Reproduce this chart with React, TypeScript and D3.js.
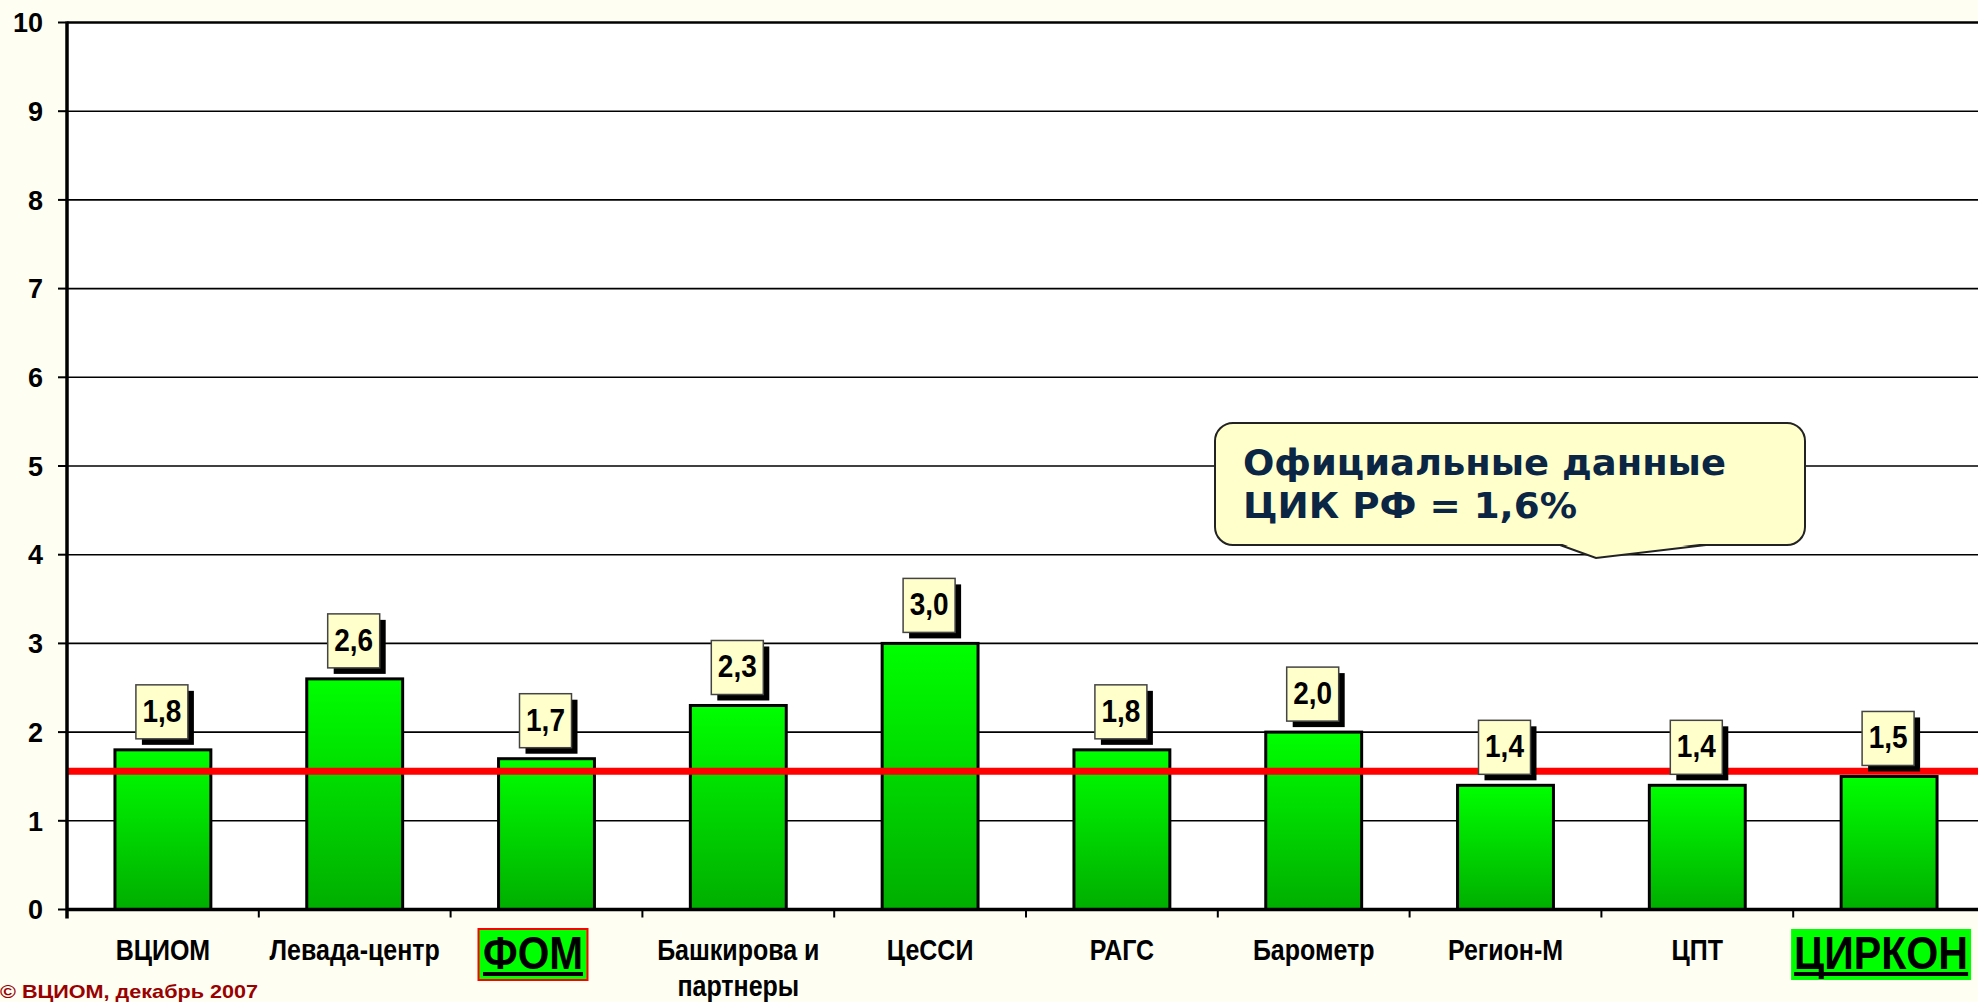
import React from "react";
import * as d3 from "d3";

const categories = ["ВЦИОМ", "Левада-центр", "ФОМ", "Башкирова и партнеры", "ЦеССИ", "РАГС", "Барометр", "Регион-М", "ЦПТ", "ЦИРКОН"];
const values = [1.8, 2.6, 1.7, 2.3, 3.0, 1.8, 2.0, 1.4, 1.4, 1.5];
const yTicks = [0, 1, 2, 3, 4, 5, 6, 7, 8, 9, 10];
const officialLine = 1.56;
const highlighted = ["ФОМ", "ЦИРКОН"];
const calloutLines = ["Официальные данные", "ЦИК РФ = 1,6%"];
const copyright = "© ВЦИОМ, декабрь 2007";

const W = 1978;
const H = 1002;
const left = 67;
const right = 1985;
const top = 22.5;
const bottom = 909.5;
const SANS = "'Liberation Sans', Arial, Helvetica, sans-serif";
const WIDE = "'DejaVu Sans', Verdana, sans-serif";

export default function App() {
  const y = d3.scaleLinear().domain([0, 10]).range([bottom, top]);
  const x = d3.scaleBand<string>().domain(categories).range([left, right]).paddingInner(0.5).paddingOuter(0.25);
  const step = x.step();
  const fmt = (v: number) => d3.format(".1f")(v).replace(".", ",");
  const boundaries = d3.range(categories.length + 1).map((i) => left + i * step);

  const hlSpec: Record<string, { dx: number; w: number; tl: number; border: boolean }> = {
    "ФОМ": { dx: -13.5, w: 109, tl: 100, border: true },
    "ЦИРКОН": { dx: -8, w: 180, tl: 174, border: false },
  };

  return (
    <svg width={W} height={H} style={{ position: "absolute", left: 0, top: 0, display: "block" }}>
      <defs>
        <linearGradient id="barGrad" x1="0" y1="0" x2="0" y2="1">
          <stop offset="0%" stopColor="#00FF00" />
          <stop offset="100%" stopColor="#00AE00" />
        </linearGradient>
      </defs>
      <rect x={0} y={0} width={W} height={H} fill="#FEFEF3" />
      <rect x={left} y={top} width={W - left} height={bottom - top} fill="#FFFFFF" />

      {/* gridlines */}
      {yTicks.filter((t) => t > 0).map((t) => (
        <line key={"g" + t} x1={left} x2={W} y1={y(t)} y2={y(t)} stroke="#000" strokeWidth={t === 10 ? 2.5 : 1.6} />
      ))}

      {/* y ticks + labels */}
      {yTicks.map((t) => (
        <g key={"yt" + t}>
          <line x1={58} x2={left} y1={y(t)} y2={y(t)} stroke="#000" strokeWidth={2} />
          <text x={43} y={y(t)} dy="0.36em" textAnchor="end" fontFamily={SANS} fontWeight="bold" fontSize={27} fill="#000">
            {t}
          </text>
        </g>
      ))}

      {/* x ticks */}
      {boundaries.map((b, i) => (
        <line key={"xt" + i} x1={b} x2={b} y1={bottom} y2={bottom + 8} stroke="#000" strokeWidth={2} />
      ))}

      {/* bars */}
      {categories.map((c, i) => (
        <rect
          key={"b" + c}
          x={x(c)}
          y={y(values[i])}
          width={x.bandwidth()}
          height={bottom - y(values[i])}
          fill="url(#barGrad)"
          stroke="#000"
          strokeWidth={3}
        />
      ))}

      {/* official line */}
      <line x1={left} x2={W} y1={y(officialLine)} y2={y(officialLine)} stroke="#FF0000" strokeWidth={7} />

      {/* axes */}
      <line x1={left} x2={left} y1={top - 1} y2={bottom + 9} stroke="#000" strokeWidth={3.5} />
      <line x1={left} x2={W} y1={bottom} y2={bottom} stroke="#000" strokeWidth={3.5} />

      {/* value labels */}
      {categories.map((c, i) => {
        const cx = (x(c) as number) + x.bandwidth() / 2 - 1;
        const by = y(values[i]) - 11;
        const bw = 52;
        const bh = 54;
        return (
          <g key={"v" + c}>
            <rect x={cx - bw / 2 + 6} y={by - bh + 6} width={bw} height={bh} fill="#000" />
            <rect x={cx - bw / 2} y={by - bh} width={bw} height={bh} fill="#FFFFCC" stroke="#444" strokeWidth={1.5} />
            <g transform={`translate(${cx},${by - bh / 2 + 10}) scale(1,1.12)`}>
              <text x={0} y={0} textAnchor="middle" fontFamily={SANS} fontWeight="bold" fontSize={28} fill="#000">
                {fmt(values[i])}
              </text>
            </g>
          </g>
        );
      })}

      {/* category labels */}
      {categories.map((c) => {
        const cx = (x(c) as number) + x.bandwidth() / 2;
        if (highlighted.includes(c)) {
          const s = hlSpec[c];
          const hx = cx + s.dx;
          return (
            <g key={"c" + c}>
              <rect
                x={hx - s.w / 2}
                y={929}
                width={s.w}
                height={51}
                fill="#00FF00"
                stroke={s.border ? "#FF0000" : "none"}
                strokeWidth={2}
              />
              <g transform={`translate(${hx},969) scale(1,1.15)`}>
                <text x={0} y={0} textAnchor="middle" fontFamily={SANS} fontWeight="bold" fontSize={40} fill="#000" textLength={s.tl} lengthAdjust="spacingAndGlyphs">
                  {c}
                </text>
              </g>
              <rect x={hx - s.tl / 2} y={972} width={s.tl} height={4} fill="#000" />
            </g>
          );
        }
        const words = c === "Башкирова и партнеры" ? ["Башкирова и", "партнеры"] : [c];
        return (
          <g key={"c" + c}>
            {words.map((wd, j) => (
              <g key={j} transform={`translate(${cx},${960 + j * 36}) scale(1,1.18)`}>
                <text x={0} y={0} textAnchor="middle" fontFamily={SANS} fontWeight="bold" fontSize={25} fill="#000">
                  {wd}
                </text>
              </g>
            ))}
          </g>
        );
      })}

      {/* callout */}
      <g>
        <path d={`M1560,545 L1596,558 L1706,545`} fill="#FFFFCC" stroke="#222" strokeWidth={2} />
        <rect x={1215} y={423} width={590} height={122} rx={18} ry={18} fill="#FFFFCC" stroke="#222" strokeWidth={2} />
        <path d={`M1561,543.5 L1596,556 L1704,543.5 Z`} fill="#FFFFCC" stroke="none" />
        <text x={1243} y={475} fontFamily={WIDE} fontWeight="bold" fontSize={36} fill="#0B2545" textLength={483} lengthAdjust="spacingAndGlyphs">
          {calloutLines[0]}
        </text>
        <text x={1243} y={518} fontFamily={WIDE} fontWeight="bold" fontSize={36} fill="#0B2545" textLength={334} lengthAdjust="spacingAndGlyphs">
          {calloutLines[1]}
        </text>
      </g>

      {/* footer */}
      <text x={0} y={998} fontFamily={SANS} fontWeight="bold" fontSize={19} fill="#990000" textLength={258} lengthAdjust="spacingAndGlyphs">
        {copyright}
      </text>
    </svg>
  );
}
